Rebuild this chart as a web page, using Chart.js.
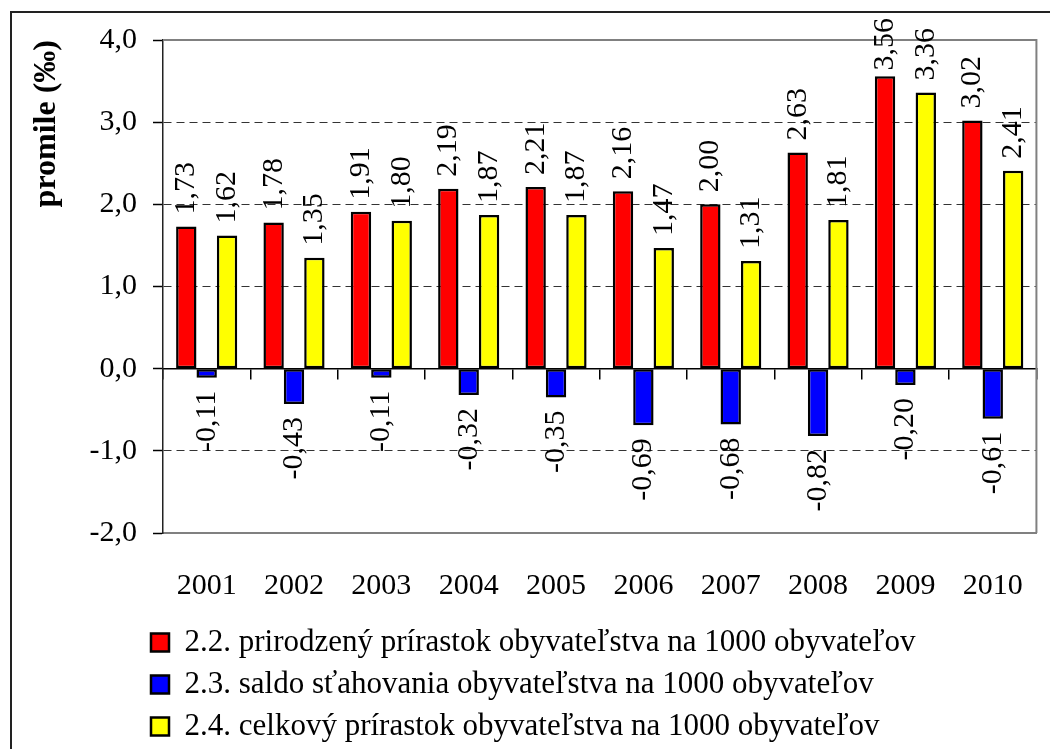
<!DOCTYPE html>
<html>
<head>
<meta charset="utf-8">
<script src="https://cdn.jsdelivr.net/npm/chart.js@4"></script>
<style>
    html, body { margin: 0; padding: 0; background: #fff; overflow: hidden; }
    #frame { position: absolute; left: 10px; top: 11px; width: 1100px; height: 800px; border: 2px solid #222; }
    #chart { position: absolute; left: 0; top: 0; }
</style>
</head>
<body>
<div id="frame"></div>
<canvas id="chart" width="1050" height="749"></canvas>
<script>
"use strict";

const years = ["2001", "2002", "2003", "2004", "2005", "2006", "2007", "2008", "2009", "2010"];
const naturalIncrease = [1.73, 1.78, 1.91, 2.19, 2.21, 2.16, 2.00, 2.63, 3.56, 3.02];
const migrationBalance = [-0.11, -0.43, -0.11, -0.32, -0.35, -0.69, -0.68, -0.82, -0.20, -0.61];
const totalIncrease = [1.62, 1.35, 1.80, 1.87, 1.87, 1.47, 1.31, 1.81, 3.36, 2.41];
const seriesNames = [
    "2.2. prirodzený prírastok obyvateľstva na 1000 obyvateľov",
    "2.3. saldo sťahovania obyvateľstva na 1000 obyvateľov",
    "2.4. celkový prírastok obyvateľstva na 1000 obyvateľov"
];
const yMin = -2;
const yMax = 4;
const yStep = 1;

const SERIF = "'Liberation Serif', 'Times New Roman', serif";
const LABEL_FONT = `30px ${SERIF}`;

const comma = (v, digits) => v.toFixed(digits).replace(".", ",");

// rotated value labels, Excel style
const valueLabels = {
    id: "valueLabels",
    afterDatasetsDraw (chart) {
        const ctx = chart.ctx;

        ctx.save();
        ctx.font = LABEL_FONT;
        ctx.fillStyle = "#000";
        ctx.textBaseline = "middle";
        ctx.textAlign = "left";

        chart.data.datasets.forEach((dataset, i) => {
            chart.getDatasetMeta(i).data.forEach((bar, j) => {
                const value = dataset.data[j];
                const text = comma(value, 2);
                const width = ctx.measureText(text).width;
                let start;

                if (value >= 0) {
                    start = Math.max(bar.y - 12, width + 18);
                } else {
                    start = bar.y + 13 + width;
                }

                ctx.save();
                ctx.translate(bar.x, start);
                ctx.rotate(-Math.PI / 2);
                ctx.fillText(text, 0, 0);
                ctx.restore();
            });
        });

        ctx.restore();
    }
};

// grey top/right plot border + left aligned legend
const plotFrame = {
    id: "plotFrame",
    afterLayout (chart) {
        chart.legend.left = 140;
    },
    beforeDatasetsDraw (chart) {
        const {ctx, chartArea: a} = chart;

        ctx.save();
        ctx.strokeStyle = "#808080";
        ctx.lineWidth = 2;
        ctx.beginPath();
        ctx.moveTo(a.left, a.top);
        ctx.lineTo(a.right, a.top);
        ctx.lineTo(a.right, a.bottom);
        ctx.stroke();
        ctx.restore();
    }
};

const bar = (label, data, color) => ({
    label,
    data,
    backgroundColor: color,
    borderColor: "#000",
    borderWidth: 2.5,
    borderSkipped: false,
    categoryPercentage: 0.7,
    barPercentage: 1.0
});

new Chart(document.getElementById("chart"), {
    type: "bar",
    data: {
        labels: years,
        datasets: [
            bar(seriesNames[0], naturalIncrease, "#ff0000"),
            bar(seriesNames[1], migrationBalance, "#0000ff"),
            bar(seriesNames[2], totalIncrease, "#ffff00")
        ]
    },
    options: {
        responsive: false,
        devicePixelRatio: 1,
        animation: false,
        layout: {
            padding: {top: 40, right: 5, bottom: -3, left: 0}
        },
        scales: {
            x: {
                type: "category",
                position: "bottom",
                offset: true,
                grid: {display: false},
                border: {display: true, color: "#808080", width: 2},
                ticks: {
                    color: "#000",
                    font: {family: SERIF, size: 30},
                    padding: 27,
                    maxRotation: 0,
                    autoSkip: false
                },
                afterFit: axis => { axis.height = 83; }
            },
            x2: {
                type: "category",
                axis: "x",
                position: {y: 0},
                offset: true,
                grid: {
                    offset: true,
                    drawOnChartArea: false,
                    tickLength: 10,
                    color: "#000",
                    lineWidth: 1.5
                },
                border: {display: true, color: "#000", width: 1.5},
                ticks: {display: false}
            },
            y: {
                min: yMin,
                max: yMax,
                ticks: {
                    stepSize: yStep,
                    color: "#000",
                    font: {family: SERIF, size: 30},
                    padding: 16,
                    callback: v => comma(v, 1)
                },
                grid: {
                    color: c => (c.tick.value === yMin || c.tick.value === yMax) ? "transparent" : (c.tick.value === 0 ? "#000" : "#333"),
                    lineWidth: 1,
                    tickLength: 10,
                    tickColor: "#000",
                    tickWidth: 1.5
                },
                border: {
                    display: true,
                    color: "#222",
                    width: 1.5,
                    dash: c => (c.tick && c.tick.value !== 0) ? [8, 5] : []
                },
                title: {
                    display: true,
                    text: "promile (‰)",
                    align: "end",
                    color: "#000",
                    font: {family: SERIF, size: 32, weight: "bold"},
                    padding: {top: 28, bottom: 0}
                },
                afterFit: axis => { axis.width = 163; }
            }
        },
        plugins: {
            tooltip: {enabled: false},
            legend: {
                display: true,
                position: "bottom",
                align: "start",
                labels: {
                    color: "#000",
                    font: {family: SERIF, size: 31},
                    boxWidth: 18,
                    boxHeight: 18,
                    padding: 11
                }
            }
        }
    },
    plugins: [valueLabels, plotFrame]
});
</script>
</body>
</html>
